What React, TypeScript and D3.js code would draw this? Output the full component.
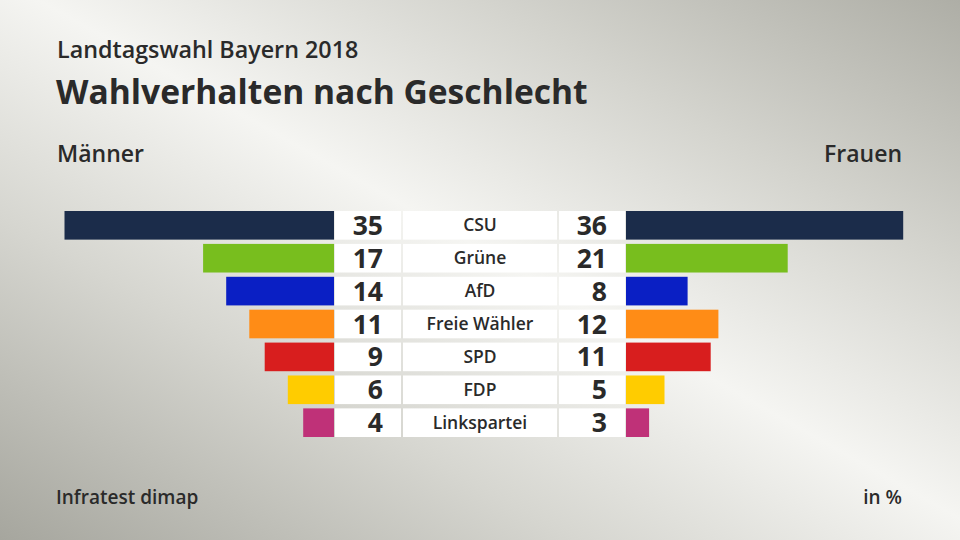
import React from "react";
import * as d3 from "d3";

const parties = ["CSU", "Grüne", "AfD", "Freie Wähler", "SPD", "FDP", "Linkspartei"];
const maenner = [35, 17, 14, 11, 9, 6, 4];
const frauen = [36, 21, 8, 12, 11, 5, 3];
const colors = ["#1b2c4a", "#78be1e", "#0a1fc4", "#ff8c16", "#d81e1e", "#ffcc00", "#bf3178"];

const W = 960, H = 540;
const FONT = "'Open Sans', 'Noto Sans', sans-serif";

export default function App() {
  const xLen = d3.scaleLinear().domain([0, 36]).range([0, 277.2]);
  const y = d3.scaleBand<string>().domain(parties).range([211, 437]).paddingInner(0.13).paddingOuter(0);
  const leftEdge = 334;
  const rightEdge = 626;
  return (
    <svg width={W} height={H} style={{ position: "absolute", left: 0, top: 0 }}>
      <defs>
        <linearGradient id="bg" x1="0" y1="1" x2="1" y2="0">
          <stop offset="0" stopColor="#a6a69e" />
          <stop offset="0.3" stopColor="#d6d6d0" />
          <stop offset="0.52" stopColor="#f5f5f2" />
          <stop offset="0.75" stopColor="#d4d4ce" />
          <stop offset="1" stopColor="#aeaea6" />
        </linearGradient>
      </defs>
      <rect x={0} y={0} width={W} height={H} fill="url(#bg)" />
      <g fontFamily={FONT} fill="#2a2a2a">
        <text x={57} y={58} fontSize={23.3} fontWeight={600}>Landtagswahl Bayern 2018</text>
        <text x={56} y={104} fontSize={33.6} fontWeight={700}>Wahlverhalten nach Geschlecht</text>
        <text x={57} y={162} fontSize={23} fontWeight={600}>Männer</text>
        <text x={902} y={162} fontSize={23} fontWeight={600} textAnchor="end">Frauen</text>
        <text x={56} y={504} fontSize={19} fontWeight={600}>Infratest dimap</text>
        <text x={902} y={504} fontSize={19} fontWeight={600} textAnchor="end">in %</text>
      </g>
      {parties.map((p, i) => {
        const yy = y(p)!;
        const h = y.bandwidth();
        const cy = yy + h / 2;
        return (
          <g key={p}>
            <rect x={leftEdge - xLen(maenner[i])} y={yy} width={xLen(maenner[i])} height={h} fill={colors[i]} />
            <rect x={rightEdge} y={yy} width={xLen(frauen[i])} height={h} fill={colors[i]} />
            <rect x={335} y={yy} width={66} height={h} fill="#ffffff" />
            <rect x={403} y={yy} width={154} height={h} fill="#ffffff" />
            <rect x={559} y={yy} width={66} height={h} fill="#ffffff" />
            <text x={383} y={cy + 9.5} fontFamily={FONT} fontSize={26.5} fontWeight={700} fill="#2a2a2a" textAnchor="end">{maenner[i]}</text>
            <text x={607} y={cy + 9.5} fontFamily={FONT} fontSize={26.5} fontWeight={700} fill="#2a2a2a" textAnchor="end">{frauen[i]}</text>
            <text x={480} y={cy + 6} fontFamily={FONT} fontSize={17.5} fontWeight={600} fill="#2a2a2a" textAnchor="middle">{p}</text>
          </g>
        );
      })}
    </svg>
  );
}
